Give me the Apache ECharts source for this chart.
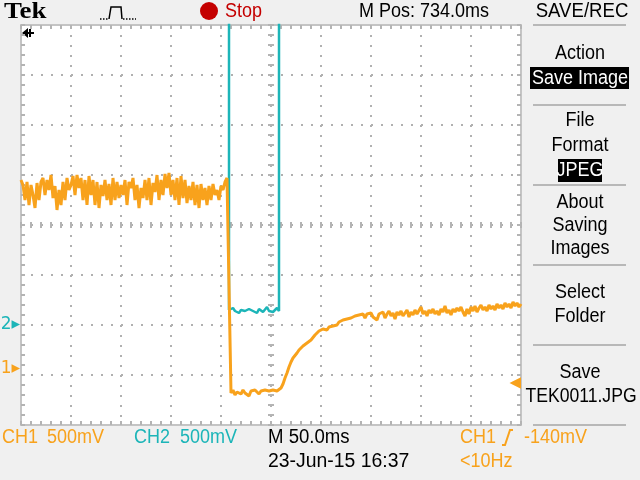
<!DOCTYPE html>
<html><head><meta charset="utf-8">
<script src="https://cdn.jsdelivr.net/npm/echarts@6/dist/echarts.min.js"></script>
<style>html,body{margin:0;padding:0;background:#f0f0f0}#c{width:640px;height:480px}</style>
</head><body><div id="c"></div>
<script>
// ---- data ----
const sampleStepMs = 2;          // CH1 sample spacing (ms)
const ch1StartMs = -250;         // time of first CH1 sample, relative to screen centre
const ch1Volts = [
 1.89,1.84,1.69,1.87,1.64,1.84,1.74,1.61,1.86,1.69,
 1.87,1.91,1.74,1.89,1.79,1.94,1.71,1.83,1.59,1.79,
 1.64,1.87,1.69,1.91,1.79,1.84,1.93,1.74,1.94,1.81,
 1.91,1.69,1.89,1.64,1.93,1.74,1.89,1.64,1.87,1.61,
 1.84,1.73,1.89,1.69,1.85,1.64,1.91,1.69,1.87,1.71,
 1.84,1.74,1.89,1.64,1.87,1.81,1.91,1.69,1.84,1.61,
 1.81,1.71,1.89,1.69,1.91,1.64,1.86,1.77,1.94,1.69,
 1.89,1.74,1.95,1.81,1.96,1.74,1.89,1.69,1.91,1.64,
 1.93,1.71,1.89,1.66,1.83,1.69,1.87,1.64,1.84,1.61,
 1.85,1.69,1.81,1.64,1.83,1.69,1.85,1.74,1.79,1.69,
 1.83,1.79,1.87,1.91,1.93,
 -0.24,-0.21,-0.26,-0.23,-0.22,-0.25,-0.21,-0.24,-0.23,-0.27,
 -0.22,-0.24,-0.21,-0.23,-0.25,-0.22,-0.24,-0.21,-0.23,-0.22,
 -0.24,-0.21,-0.23,-0.22,-0.21,
 -0.19,-0.15,-0.09,-0.04,0.02,0.07,0.11,0.12,0.16,0.19,
 0.20,0.23,0.24,0.26,0.28,0.29,0.31,0.34,0.36,0.38,
 0.39,0.40,0.41,0.39,0.42,0.44,0.43,0.45,0.44,0.47,
 0.46,0.49,0.47,0.50,0.48,0.51,0.49,0.53,0.51,0.54,
 0.52,0.55,0.51,0.55,0.53,0.56,0.52,0.54,0.49,0.55,
 0.53,0.57,0.51,0.55,0.58,0.53,0.56,0.50,0.57,0.54,
 0.58,0.53,0.56,0.59,0.52,0.57,0.54,0.59,0.55,0.57,
 0.62,0.55,0.58,0.53,0.59,0.56,0.60,0.55,0.58,0.54,
 0.60,0.57,0.63,0.56,0.59,0.54,0.60,0.57,0.61,0.58,
 0.62,0.57,0.53,0.60,0.55,0.62,0.58,0.63,0.57,0.61,
 0.64,0.59,0.62,0.58,0.64,0.60,0.63,0.59,0.65,0.61,
 0.64,0.60,0.66,0.62,0.65,0.61,0.67,0.63,0.66,0.62,
 0.65
];
// CH2: [time ms, volts]; the high level is above the screen
const ch2Points = [
 [-250,5.0],[-42,5.0],[-42,0.15],[-40,0.13],[-38,0.17],[-36,0.14],[-34,0.16],[-32,0.12],
 [-30,0.15],[-28,0.17],[-26,0.14],[-24,0.13],[-22,0.16],[-20,0.18],[-18,0.14],[-16,0.15],
 [-14,0.12],[-12,0.16],[-10,0.17],[-8,0.13],[-6,0.15],[-4,0.18],[-2,0.14],[0,0.16],
 [2,0.13],[4,0.15],[6,0.17],[8,0.14],[8,5.0],[250,5.0]
];
const timeRangeMs = [-250, 250];  // 10 div x 50 ms
const timeDivMs = 50;
const divRange = [-4, 4];
const ch1Range = [-0.56, 3.44];   // 500 mV/div, ground marker 2.88 div below centre
const ch2Range = [-1.0, 3.0];     // 500 mV/div, ground marker 2 div below centre
const triggerLevelV = -0.14;

const ORANGE = '#f8a21c', TEAL = '#1cb5b8';
const FONT = '"Liberation Sans","Arial",sans-serif';

const ch1Data = ch1Volts.map((v, i) => [ch1StartMs + i * sampleStepMs, v]);

const tickStyle = {color: '#b4b4b4', width: 2};
function xAx(pos, offset, inside, len, split, line) {
  return {type: 'value', min: timeRangeMs[0], max: timeRangeMs[1], interval: timeDivMs,
    position: pos, offset: offset,
    axisLine: {show: line, onZero: false, lineStyle: {color: '#c4c4c4', width: 2}},
    axisTick: {show: true, inside: inside, length: len, lineStyle: tickStyle},
    minorTick: {show: true, splitNumber: 5, length: len, lineStyle: tickStyle},
    axisLabel: {show: false},
    splitLine: {show: split, lineStyle: {color: '#b0b0b0', width: 2, type: [2, 8]}},
    minorSplitLine: {show: false}};
}
function yAx(pos, offset, inside, len, split, line) {
  return {type: 'value', min: divRange[0], max: divRange[1], interval: 1,
    position: pos, offset: offset,
    axisLine: {show: line, onZero: false, lineStyle: {color: '#c4c4c4', width: 2}},
    axisTick: {show: true, inside: inside, length: len, lineStyle: tickStyle},
    minorTick: {show: true, splitNumber: 5, length: len, lineStyle: tickStyle},
    axisLabel: {show: false},
    splitLine: {show: split, lineStyle: {color: '#b0b0b0', width: 2, type: [2, 8]}},
    minorSplitLine: {show: false}};
}
function chAx(range, pos, value, text, color, inside, margin, size) {
  return {type: 'value', min: range[0], max: range[1], position: pos,
    axisLine: {show: false, onZero: false}, axisTick: {show: false},
    splitLine: {show: false}, minorTick: {show: false},
    axisLabel: {show: true, inside: inside, margin: margin, customValues: [value],
      formatter: () => text, color: color, fontSize: size, fontFamily: 'DejaVu Sans'}};
}

function txt(text, x, y, color, size, align, sx, extra) {
  return {type: 'text', silent: true, x: x, y: y, scaleX: sx == null ? 0.9 : sx,
    style: Object.assign({
      text: text, x: 0, y: 0, fill: color, fontSize: size || 20, fontFamily: FONT,
      textAlign: align || 'left', textVerticalAlign: 'middle'}, extra || {})};
}
function sep(y) {
  return {type: 'line', silent: true, shape: {x1: 533, y1: y, x2: 626, y2: y},
    style: {stroke: '#b8b8b8', lineWidth: 2}};
}

const graphic = [
  {type: 'rect', silent: true, z: -10, shape: {x: 21, y: 25, width: 500, height: 400}, style: {fill: '#ffffff'}},
  txt('Tek', 4, 12, '#000', 24, 'left', 1.12, {fontFamily: '"Liberation Serif","DejaVu Serif",serif', fontWeight: 'bold'}),
  {type: 'polyline', silent: true, shape: {points: [[109, 19], [111, 7], [121, 7], [122, 19]]}, style: {stroke: '#000', lineWidth: 1.5, fill: null}},
  {type: 'line', silent: true, shape: {x1: 100, y1: 19, x2: 108, y2: 19}, style: {stroke: '#000', lineWidth: 1.5, lineDash: [1.5, 1.5]}},
  {type: 'line', silent: true, shape: {x1: 123, y1: 19, x2: 136, y2: 19}, style: {stroke: '#000', lineWidth: 1.5, lineDash: [1.5, 1.5]}},
  {type: 'circle', silent: true, shape: {cx: 209, cy: 11, r: 9}, style: {fill: '#c40000'}},
  txt('Stop', 225, 11, '#c40000', 20),
  txt('M Pos: 734.0ms', 359, 11, '#000', 20),
  txt('SAVE/REC', 582, 11, '#000', 20, 'center', 0.93),
  // trigger position marker (top-left)
  {type: 'polygon', silent: true, shape: {points: [[22, 33], [28, 28], [28, 38]]}, style: {fill: '#000'}},
  {type: 'line', silent: true, shape: {x1: 26, y1: 33, x2: 34, y2: 33}, style: {stroke: '#000', lineWidth: 2}},
  {type: 'line', silent: true, shape: {x1: 30, y1: 29, x2: 30, y2: 37}, style: {stroke: '#000', lineWidth: 2}},
  // right menu
  sep(25), sep(105), sep(185), sep(265), sep(345), sep(425),
  txt('Action', 580, 53, '#000', 20, 'center'),
  {type: 'rect', silent: true, shape: {x: 530, y: 67, width: 99, height: 22}, style: {fill: '#000'}},
  txt('Save Image', 580, 78, '#fff', 20, 'center'),
  txt('File', 580, 120, '#000', 20, 'center'),
  txt('Format', 580, 145, '#000', 20, 'center'),
  {type: 'rect', silent: true, shape: {x: 558, y: 159, width: 44, height: 23}, style: {fill: '#000'}},
  txt('JPEG', 580, 170, '#fff', 20, 'center'),
  txt('About', 580, 202, '#000', 20, 'center'),
  txt('Saving', 580, 225, '#000', 20, 'center'),
  txt('Images', 580, 248, '#000', 20, 'center'),
  txt('Select', 580, 292, '#000', 20, 'center'),
  txt('Folder', 580, 316, '#000', 20, 'center'),
  txt('Save', 580, 372, '#000', 20, 'center'),
  txt('TEK0011.JPG', 581, 396, '#000', 20, 'center', 0.88),
  // bottom status
  txt('CH1', 2, 437, ORANGE, 20),
  txt('500mV', 47, 437, ORANGE, 20),
  txt('CH2', 134, 437, TEAL, 20),
  txt('500mV', 180, 437, TEAL, 20),
  txt('M 50.0ms', 268, 437, '#000', 20, 'left', 0.93),
  txt('23-Jun-15 16:37', 268, 461, '#000', 20, 'left', 0.97),
  txt('CH1', 460, 437, ORANGE, 20),
  {type: 'polyline', silent: true, shape: {points: [[502, 445], [505, 445], [510, 430], [513, 430]]}, style: {stroke: ORANGE, lineWidth: 2, fill: null}},
  txt('-140mV', 524, 437, ORANGE, 20),
  txt('<10Hz', 460, 461, ORANGE, 20)
];

const chart = echarts.init(document.getElementById('c'), null, {renderer: 'canvas'});
chart.setOption({
  animation: false,
  backgroundColor: '#f0f0f0',
  grid: {left: 21, top: 25, width: 500, height: 400, containLabel: false, outerBoundsMode: 'none'},
  xAxis: [
    xAx('bottom', 0, true, 4, true, true),
    xAx('top', 0, true, 4, false, true),
    xAx('bottom', -200, true, 3, false, false),
    xAx('bottom', -200, false, 3, false, false)
  ],
  yAxis: [
    yAx('left', 0, true, 4, true, true),
    yAx('right', 0, true, 4, false, true),
    yAx('left', -250, true, 3, false, false),
    yAx('left', -250, false, 3, false, false),
    chAx(ch1Range, 'left', 0, '1\u25B8', ORANGE, false, 1, 17),
    chAx(ch2Range, 'left', 0, '2\u25B8', TEAL, false, 1, 17),
    chAx(ch1Range, 'right', triggerLevelV, '\u25C0', ORANGE, true, 0, 15)
  ],
  graphic: graphic,
  series: [
    {type: 'line', name: 'CH2', xAxisIndex: 0, yAxisIndex: 5, data: ch2Points, showSymbol: false,
      lineStyle: {color: TEAL, width: 2.5}, itemStyle: {color: TEAL}, z: 3, clip: true},
    {type: 'line', name: 'CH1', xAxisIndex: 0, yAxisIndex: 4, data: ch1Data, showSymbol: false,
      lineStyle: {color: ORANGE, width: 3}, itemStyle: {color: ORANGE}, z: 4, clip: true}
  ]
});
</script></body></html>
